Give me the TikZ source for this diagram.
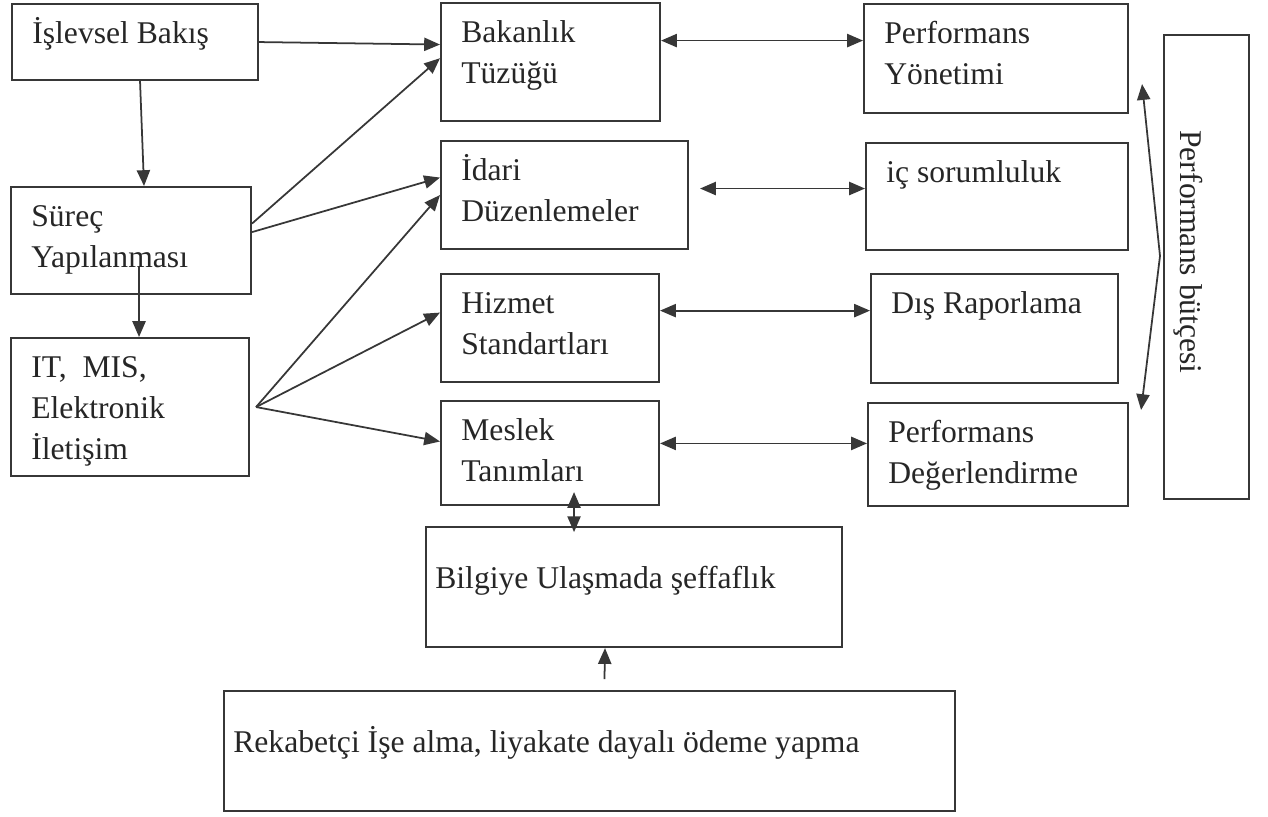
\documentclass[tikz,border=0pt]{standalone}
\usepackage{fontspec}
\setmainfont{Liberation Serif}
\usetikzlibrary{arrows.meta, calc}
\definecolor{ink}{RGB}{38,38,38}
\definecolor{rulegray}{RGB}{55,55,55}

\tikzset{
  box/.style={draw=rulegray, line width=1.2pt, anchor=north west, inner sep=0pt},
  txt/.style={align=left, inner sep=0pt, text=ink, font=\fontsize{18}{23.5}\selectfont},
  lbl/.style={label={[txt, anchor=north west, xshift=.42cm, yshift=-6.3pt]north west:{\strut #1}}},
  wlbl/.style={label={[txt, anchor=north west, xshift=.2cm, yshift=-19pt]north west:{\strut #1}}},
  tip/.tip={Triangle[length=9pt, width=7.5pt]},
  arr/.style={-tip, draw=rulegray, line width=1pt},
  dbl/.style={tip-tip, draw=rulegray, line width=1pt}
}

\begin{document}
\begin{tikzpicture}[x=.02cm, y=-.02cm]
  \useasboundingbox (0,0) rectangle (1268,816);
  % left column
  \node[box, minimum width=4.92cm, minimum height=1.52cm, lbl={İşlevsel Bakış}] (isl) at (11,3) {};
  \node[box, minimum width=4.80cm, minimum height=2.14cm, lbl={Süreç\\Yapılanması}] (sur) at (10,186) {};
  \node[box, minimum width=4.76cm, minimum height=2.76cm, lbl={IT,~~MIS,\\Elektronik\\İletişim}] (itm) at (10,337) {};
  % middle column
  \node[box, minimum width=4.38cm, minimum height=2.36cm, lbl={Bakanlık\\Tüzüğü}] (bak) at (440,2) {};
  \node[box, minimum width=4.94cm, minimum height=2.16cm, lbl={İdari\\Düzenlemeler}] (ida) at (440,140) {};
  \node[box, minimum width=4.36cm, minimum height=2.16cm, lbl={Hizmet\\Standartları}] (hiz) at (440,273) {};
  \node[box, minimum width=4.36cm, minimum height=2.08cm, lbl={Meslek\\Tanımları}] (mes) at (440,400) {};
  % right column
  \node[box, minimum width=5.28cm, minimum height=2.18cm, lbl={Performans\\Yönetimi}] (pyo) at (863,3) {};
  \node[box, minimum width=5.24cm, minimum height=2.14cm, lbl={iç sorumluluk}] (ics) at (865,142) {};
  \node[box, minimum width=4.94cm, minimum height=2.18cm, lbl={Dış Raporlama}] (dis) at (870,273) {};
  \node[box, minimum width=5.20cm, minimum height=2.06cm, lbl={Performans\\Değerlendirme}] (pde) at (867,402) {};
  \node[box, minimum width=1.70cm, minimum height=9.28cm] (pbu) at (1163,34) {};
  \node[txt, anchor=base west, rotate=-90] (pbu-t) at ($(pbu.north west)+(17,96)$) {Performans bütçesi};
  % bottom
  \node[box, minimum width=8.32cm, minimum height=2.40cm, wlbl={Bilgiye Ulaşmada şeffaflık}] (bil) at (425,526) {};
  \node[box, minimum width=14.62cm, minimum height=2.40cm, wlbl={Rekabetçi İşe alma, liyakate dayalı ödeme yapma}] (rek) at (223,690) {};

  \draw[arr] (isl.east) -- (bak.171);
  \draw[arr] ([xshift=.1cm]isl.south) -- ([xshift=.26cm]sur.north);
  \draw[arr] ([xshift=.18cm, yshift=1.4cm]itm.north) -- ([xshift=.18cm]itm.north);
  \draw[arr] (sur.8) -- (bak.178);
  \draw[arr] (sur.4) -- (ida.172);
  \foreach \b/\ang in {ida/180, hiz/172, mes/174}
    \draw[arr] ([xshift=.12cm]itm.east) -- (\b.\ang);
  \foreach \a/\ang/\b in {bak/11/pyo, hiz/9/dis, mes/5/pde}
    \draw[dbl] (\a.\ang) -- (\a.\ang -| \b.west);
  \draw[dbl] ([xshift=.22cm]ida.3) -- (ida.3 -| ics.west);
  \draw[dbl] ($(mes.south)+(24,-14)$) -- ($(mes.south)+(24,26)$);
  \draw[arr] ($(rek.north)+(15,-11)$) -- ($(bil.south)+(-29,0)$);
  \coordinate (fork) at ($(pbu.west)+(-3,-11)$);
  \draw[arr] (fork) -- ($(pyo.south east)+(13,-30)$);
  \draw[arr] (fork) -- ($(pde.north east)+(12,8)$);
\end{tikzpicture}
\end{document}
